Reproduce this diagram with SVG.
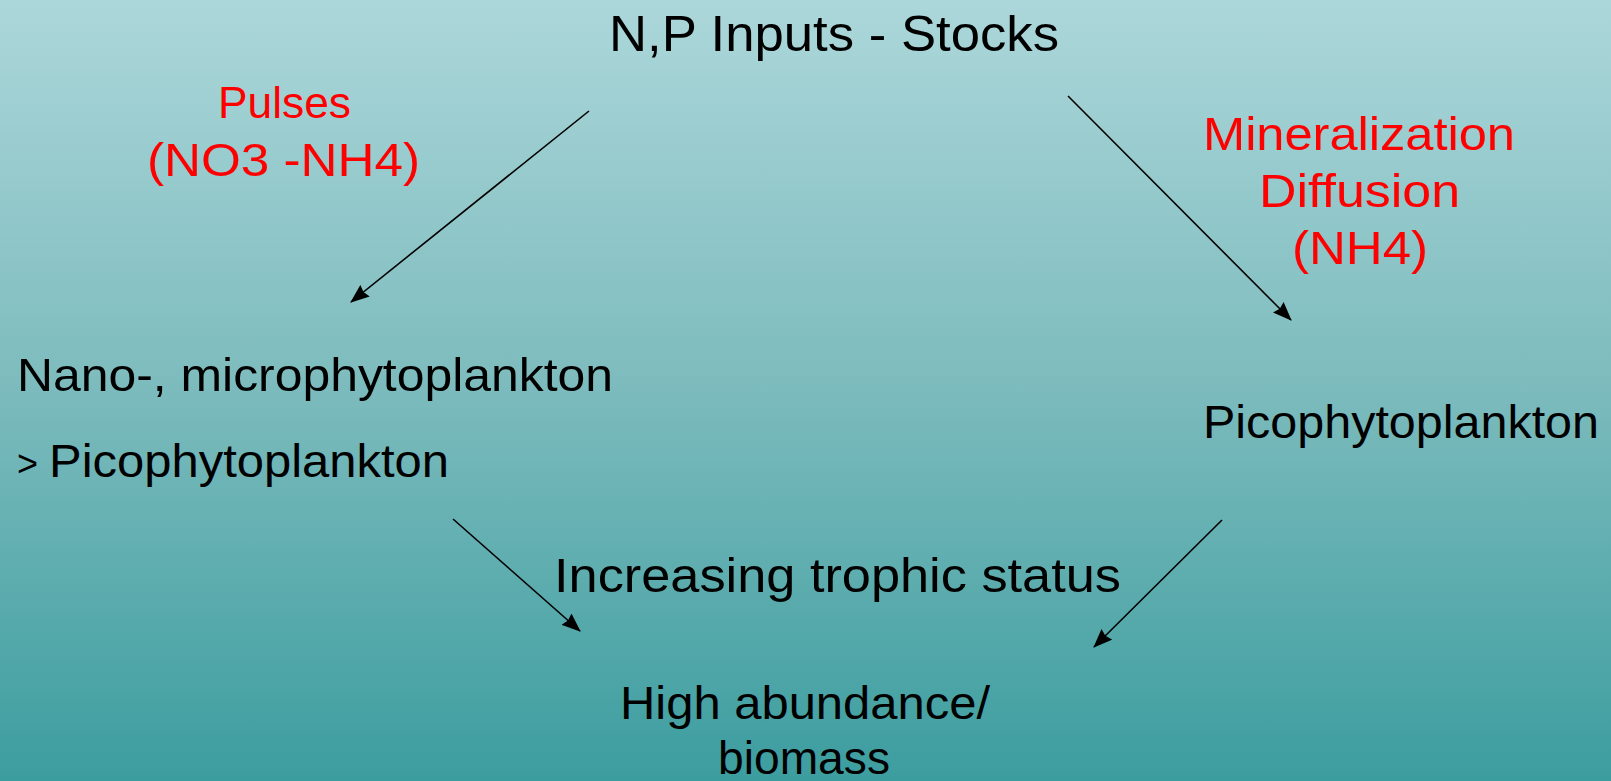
<svg xmlns="http://www.w3.org/2000/svg" width="1611" height="781" viewBox="0 0 1611 781">
  <defs>
    <linearGradient id="bg" x1="0" y1="0" x2="0" y2="1">
      <stop offset="0" stop-color="#acd7da"/>
      <stop offset="0.5" stop-color="#7cbbbd"/>
      <stop offset="1" stop-color="#3c9d9f"/>
    </linearGradient>
    <marker id="arr" viewBox="0 0 19 15" refX="18" refY="7.5" markerWidth="19" markerHeight="15" markerUnits="userSpaceOnUse" orient="auto">
      <path d="M0,0 L19,7.5 L0,15 L2,7.5 Z" fill="#000"/>
    </marker>
    <style>
      text { font-family: "Liberation Sans", Arial, sans-serif; fill: #000; }
      .red { fill: #ff0000; }
      .conn line { stroke: #000; stroke-width: 1.6; marker-end: url(#arr); }
    </style>
  </defs>
  <rect x="0" y="0" width="1611" height="781" fill="url(#bg)"/>

  <g id="connectors" class="conn">
    <line x1="589" y1="111" x2="351" y2="302"/>
    <line x1="1068" y1="96" x2="1291" y2="320"/>
    <line x1="453" y1="519" x2="580" y2="631"/>
    <line x1="1222" y1="520" x2="1094" y2="647"/>
  </g>

  <g id="node-inputs">
    <text x="609" y="51" font-size="50" textLength="450" lengthAdjust="spacingAndGlyphs">N,P Inputs - Stocks</text>
  </g>

  <g id="label-pulses">
    <text class="red" x="218" y="118" font-size="45" textLength="133" lengthAdjust="spacingAndGlyphs">Pulses</text>
    <text class="red" x="147" y="176" font-size="46" textLength="273" lengthAdjust="spacingAndGlyphs">(NO3 -NH4)</text>
  </g>

  <g id="label-mineralization">
    <text class="red" x="1203" y="150" font-size="46" textLength="312" lengthAdjust="spacingAndGlyphs">Mineralization</text>
    <text class="red" x="1259" y="207" font-size="46" textLength="201" lengthAdjust="spacingAndGlyphs">Diffusion</text>
    <text class="red" x="1292" y="264" font-size="46" textLength="136" lengthAdjust="spacingAndGlyphs">(NH4)</text>
  </g>

  <g id="node-nano">
    <text x="17" y="391" font-size="47" textLength="596" lengthAdjust="spacingAndGlyphs">Nano-, microphytoplankton</text>
    <text x="17" y="476" font-size="36">&gt;</text>
    <text x="49" y="477" font-size="47" textLength="400" lengthAdjust="spacingAndGlyphs">Picophytoplankton</text>
  </g>

  <g id="node-pico">
    <text x="1203" y="438" font-size="47" textLength="396" lengthAdjust="spacingAndGlyphs">Picophytoplankton</text>
  </g>

  <g id="label-trophic">
    <text x="554" y="592" font-size="48" textLength="567" lengthAdjust="spacingAndGlyphs">Increasing trophic status</text>
  </g>

  <g id="node-biomass">
    <text x="620" y="719" font-size="47" textLength="370" lengthAdjust="spacingAndGlyphs">High abundance/</text>
    <text x="718" y="774" font-size="47" textLength="172" lengthAdjust="spacingAndGlyphs">biomass</text>
  </g>
</svg>
